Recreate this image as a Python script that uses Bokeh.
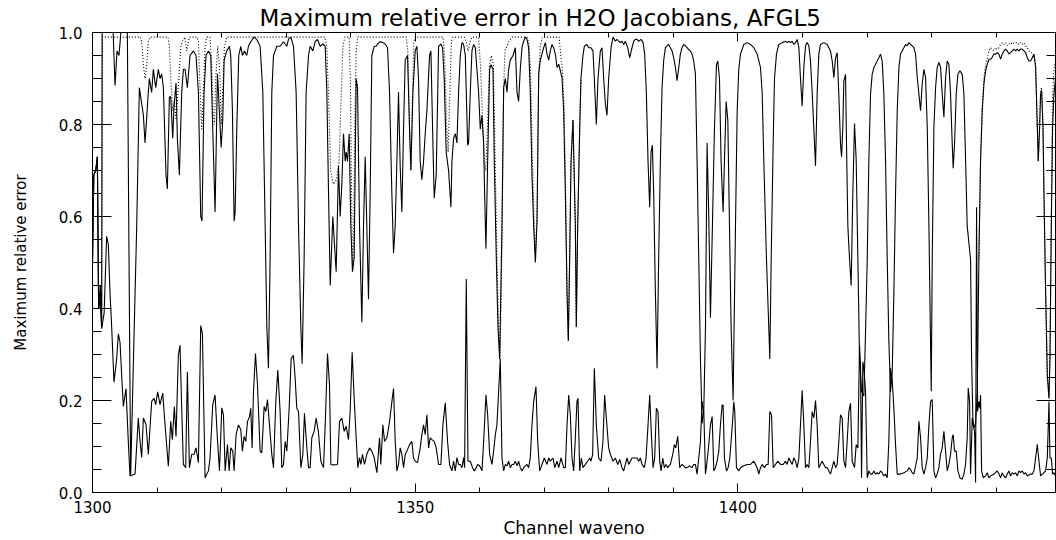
import numpy as np
from bokeh.plotting import figure
from bokeh.models import Range1d, SingleIntervalTicker, LinearAxis, PrintfTickFormatter, CustomJSTickFormatter
from bokeh.embed import file_html
from bokeh.resources import INLINE

# ---------------- data ----------------
upper_x = [1300.00, 1300.20, 1300.50, 1300.75, 1300.95, 1301.20, 1301.42, 1301.50, 1303.20, 1303.49,
           1303.80, 1304.10, 1304.40, 1305.40, 1305.91, 1306.85, 1307.26, 1307.78, 1307.88, 1308.14,
           1308.65, 1308.81, 1309.17, 1309.43, 1309.79, 1310.20, 1310.46, 1310.72, 1310.98, 1311.39,
           1311.60, 1311.91, 1312.12, 1312.43, 1312.63, 1312.94, 1313.15, 1313.46, 1313.82, 1314.08,
           1314.34, 1314.70, 1315.11, 1315.63, 1316.04, 1316.41, 1316.77, 1316.97, 1317.28, 1317.59,
           1317.96, 1318.32, 1318.63, 1318.99, 1319.36, 1319.51, 1319.93, 1320.18, 1320.39, 1320.80,
           1321.22, 1321.42, 1321.68, 1321.94, 1322.10, 1322.35, 1322.66, 1322.97, 1323.23, 1323.54,
           1323.90, 1324.16, 1324.52, 1325.04, 1325.45, 1325.97, 1326.39, 1326.75, 1327.01, 1327.26,
           1327.52, 1327.78, 1328.04, 1328.56, 1329.07, 1329.59, 1330.11, 1330.36, 1330.73, 1331.14,
           1331.55, 1331.92, 1332.28, 1332.48, 1332.79, 1333.10, 1333.47, 1333.72, 1334.14, 1334.50,
           1334.86, 1335.27, 1335.69, 1336.05, 1336.31, 1336.57, 1336.83, 1337.23, 1337.75, 1338.11,
           1338.37, 1338.63, 1338.89, 1339.15, 1339.30, 1339.51, 1339.77, 1340.02, 1340.28, 1340.54,
           1340.85, 1341.06, 1341.37, 1341.73, 1341.99, 1342.25, 1342.50, 1342.76, 1343.02, 1343.28,
           1343.64, 1343.95, 1344.16, 1344.57, 1344.99, 1345.35, 1345.71, 1346.02, 1346.38, 1346.64,
           1346.90, 1347.16, 1347.41, 1347.67, 1347.93, 1348.19, 1348.45, 1348.81, 1349.12, 1349.33,
           1349.64, 1350.00, 1350.26, 1350.51, 1350.77, 1351.03, 1351.29, 1351.55, 1351.81, 1352.22,
           1352.43, 1352.74, 1352.94, 1353.25, 1353.62, 1353.98, 1354.24, 1354.49, 1354.80, 1355.17,
           1355.53, 1355.69, 1355.95, 1356.21, 1356.46, 1356.72, 1356.98, 1357.24, 1357.50, 1357.76,
           1357.91, 1358.12, 1358.27, 1358.53, 1358.79, 1359.05, 1359.31, 1359.56, 1359.82, 1360.08,
           1360.34, 1360.60, 1360.75, 1360.96, 1361.22, 1361.53, 1361.73, 1362.05, 1362.25, 1362.56,
           1362.82, 1363.08, 1363.44, 1363.70, 1363.96, 1364.22, 1364.47, 1364.73, 1365.15, 1365.51,
           1365.77, 1366.02, 1366.28, 1366.54, 1366.80, 1367.06, 1367.32, 1367.57, 1367.83, 1368.09,
           1368.35, 1368.61, 1368.87, 1369.13, 1369.38, 1369.64, 1369.90, 1370.16, 1370.42, 1370.68,
           1370.93, 1371.19, 1371.45, 1371.71, 1371.97, 1372.23, 1372.48, 1372.74, 1373.00, 1373.26,
           1373.52, 1373.72, 1373.93, 1374.14, 1374.44, 1374.81, 1374.96, 1375.17, 1375.48, 1375.68,
           1375.99, 1376.20, 1376.61, 1376.87, 1377.23, 1377.54, 1377.75, 1378.06, 1378.32, 1378.68,
           1378.94, 1379.20, 1379.46, 1379.71, 1379.97, 1380.34, 1380.65, 1381.01, 1381.27, 1381.52,
           1381.78, 1382.04, 1382.30, 1382.56, 1382.92, 1383.23, 1383.59, 1383.85, 1384.11, 1384.37,
           1384.62, 1384.99, 1385.30, 1385.55, 1385.81, 1386.07, 1386.33, 1386.54, 1386.74, 1386.95,
           1387.21, 1387.47, 1387.72, 1387.98, 1388.24, 1388.50, 1388.76, 1389.02, 1389.28, 1389.53,
           1389.79, 1390.05, 1390.31, 1390.57, 1390.83, 1391.08, 1391.34, 1391.60, 1391.86, 1392.12,
           1392.38, 1392.63, 1392.89, 1393.15, 1393.41, 1393.67, 1393.93, 1394.19, 1394.45, 1394.71,
           1394.97, 1395.22, 1395.48, 1395.74, 1396.00, 1396.36, 1396.67, 1396.88, 1397.14, 1397.39,
           1397.70, 1397.91, 1398.17, 1398.43, 1398.69, 1398.94, 1399.25, 1399.62, 1399.88, 1400.13,
           1400.39, 1400.91, 1401.43, 1401.94, 1402.46, 1402.98, 1403.49, 1403.75, 1404.01, 1404.42,
           1404.68, 1404.94, 1405.15, 1405.46, 1405.66, 1405.97, 1406.33, 1406.85, 1407.37, 1407.63,
           1407.89, 1408.14, 1408.40, 1408.66, 1408.92, 1409.18, 1409.44, 1409.69, 1409.95, 1410.21,
           1410.47, 1410.73, 1410.99, 1411.24, 1411.50, 1411.76, 1412.02, 1412.27, 1412.53, 1412.79,
           1413.31, 1413.82, 1414.34, 1414.60, 1414.86, 1415.12, 1415.37, 1415.63, 1415.89, 1416.05,
           1416.25, 1416.41, 1416.67, 1416.82, 1417.03, 1417.29, 1417.54, 1417.80, 1418.06, 1418.32,
           1418.58, 1418.84, 1419.15, 1419.51, 1419.77, 1420.03, 1420.28, 1420.54, 1420.80, 1421.06,
           1421.32, 1421.58, 1421.83, 1422.09, 1422.35, 1422.61, 1422.87, 1423.13, 1423.38, 1423.64,
           1423.90, 1424.16, 1424.42, 1424.68, 1424.94, 1425.19, 1425.45, 1425.71, 1425.97, 1426.23,
           1426.49, 1426.74, 1427.00, 1427.26, 1427.52, 1427.78, 1428.04, 1428.29, 1428.55, 1428.81,
           1429.07, 1429.33, 1429.59, 1429.80, 1429.95, 1430.10, 1430.36, 1430.62, 1430.87, 1431.13,
           1431.39, 1431.65, 1431.91, 1432.17, 1432.42, 1432.68, 1432.94, 1433.20, 1433.35, 1433.56,
           1433.82, 1434.08, 1434.39, 1434.75, 1435.01, 1435.27, 1435.52, 1435.78, 1436.04, 1436.20,
           1436.40, 1436.56, 1436.82, 1437.08, 1437.33, 1437.59, 1437.85, 1438.11, 1438.37, 1438.63,
           1438.88, 1439.14, 1439.40, 1439.66, 1439.92, 1440.18, 1440.43, 1440.69, 1440.95, 1441.21,
           1441.47, 1441.73, 1441.98, 1442.24, 1442.50, 1442.76, 1443.02, 1443.28, 1443.54, 1443.79,
           1444.05, 1444.31, 1444.57, 1444.83, 1445.09, 1445.34, 1445.60, 1445.86, 1446.12, 1446.38,
           1446.53, 1446.74, 1446.89, 1447.05, 1447.26, 1447.41, 1447.67, 1447.93, 1448.19, 1448.34,
           1448.55, 1448.75, 1448.96, 1449.22]
upper_y = [0.50, 0.69, 0.70, 0.73, 0.40, 0.45, 0.36, 1.00, 1.00, 0.885,
           0.96, 0.95, 1.00, 1.00, 0.036, 0.58, 0.88, 0.83, 0.82, 0.76,
           0.87, 0.90, 0.87, 0.92, 0.88, 0.92, 0.90, 0.91, 0.88, 0.69,
           0.66, 0.86, 0.86, 0.77, 0.84, 0.89, 0.77, 0.69, 0.87, 0.92,
           0.92, 0.88, 0.95, 0.96, 0.95, 0.87, 0.60, 0.59, 0.87, 0.95,
           0.96, 0.95, 0.79, 0.61, 0.91, 0.87, 0.75, 0.81, 0.94, 0.96,
           0.97, 0.95, 0.83, 0.59, 0.61, 0.79, 0.95, 0.97, 0.95, 0.96,
           0.95, 0.97, 0.98, 0.99, 0.985, 0.97, 0.87, 0.58, 0.36, 0.27,
           0.51, 0.87, 0.95, 0.97, 0.97, 0.98, 0.97, 0.985, 0.99, 0.97,
           0.87, 0.58, 0.36, 0.28, 0.51, 0.87, 0.95, 0.97, 0.96, 0.98,
           0.985, 0.97, 0.975, 0.97, 0.87, 0.65, 0.45, 0.60, 0.48, 0.71,
           0.60, 0.67, 0.78, 0.72, 0.74, 0.72, 0.78, 0.58, 0.48, 0.51,
           0.90, 0.88, 0.58, 0.37, 0.58, 0.73, 0.58, 0.42, 0.65, 0.95,
           0.97, 0.97, 0.975, 0.98, 0.978, 0.975, 0.967, 0.87, 0.65, 0.52,
           0.58, 0.72, 0.87, 0.71, 0.61, 0.79, 0.94, 0.95, 0.79, 0.70,
           0.87, 0.96, 0.97, 0.90, 0.72, 0.68, 0.72, 0.78, 0.83, 0.95,
           0.96, 0.76, 0.64, 0.69, 0.97, 0.975, 0.967, 0.90, 0.74, 0.70,
           0.62, 0.72, 0.77, 0.78, 0.76, 0.87, 0.95, 0.978, 0.974, 0.95,
           0.87, 0.755, 0.76, 0.87, 0.96, 0.974, 0.967, 0.92, 0.87, 0.79,
           0.82, 0.76, 0.65, 0.53, 0.72, 0.92, 0.93, 0.92, 0.72, 0.51,
           0.36, 0.29, 0.58, 0.88, 0.90, 0.87, 0.92, 0.94, 0.95, 0.967,
           0.87, 0.85, 0.92, 0.967, 0.981, 0.99, 0.985, 0.967, 0.87, 0.69,
           0.58, 0.50, 0.59, 0.91, 0.94, 0.953, 0.967, 0.978, 0.953, 0.94,
           0.96, 0.974, 0.967, 0.953, 0.924, 0.931, 0.917, 0.902, 0.83, 0.65,
           0.435, 0.33, 0.51, 0.72, 0.81, 0.58, 0.36, 0.58, 0.79, 0.90,
           0.95, 0.97, 0.974, 0.967, 0.967, 0.96, 0.90, 0.80, 0.90, 0.96,
           0.967, 0.90, 0.845, 0.82, 0.90, 0.967, 0.99, 0.981, 0.985, 0.981,
           0.978, 0.981, 0.974, 0.981, 0.967, 0.945, 0.967, 0.981, 0.985, 0.985,
           0.981, 0.985, 0.978, 0.953, 0.87, 0.72, 0.62, 0.74, 0.755, 0.65,
           0.435, 0.27, 0.51, 0.72, 0.88, 0.94, 0.967, 0.971, 0.974, 0.967,
           0.96, 0.945, 0.924, 0.895, 0.924, 0.953, 0.967, 0.974, 0.971, 0.967,
           0.963, 0.96, 0.953, 0.938, 0.91, 0.72, 0.507, 0.29, 0.15, 0.18,
           0.36, 0.76, 0.60, 0.38, 0.55, 0.79, 0.93, 0.938, 0.90, 0.72,
           0.61, 0.72, 0.85, 0.81, 0.58, 0.36, 0.20, 0.58, 0.83, 0.92,
           0.953, 0.974, 0.978, 0.974, 0.967, 0.953, 0.924, 0.87, 0.72, 0.507,
           0.40, 0.29, 0.507, 0.76, 0.90, 0.953, 0.974, 0.978, 0.981, 0.978,
           0.981, 0.978, 0.981, 0.974, 0.978, 0.985, 0.967, 0.90, 0.84, 0.924,
           0.971, 0.978, 0.971, 0.938, 0.87, 0.79, 0.71, 0.866, 0.953, 0.974,
           0.978, 0.974, 0.96, 0.938, 0.902, 0.945, 0.956, 0.866, 0.758, 0.73,
           0.794, 0.895, 0.909, 0.758, 0.579, 0.507, 0.45, 0.65, 0.802, 0.723,
           0.507, 0.29, 0.22, 0.21, 0.35, 0.506, 0.72, 0.866, 0.909, 0.924,
           0.931, 0.938, 0.945, 0.953, 0.938, 0.866, 0.72, 0.507, 0.33, 0.219,
           0.26, 0.435, 0.65, 0.83, 0.924, 0.953, 0.96, 0.967, 0.974, 0.971,
           0.978, 0.974, 0.971, 0.967, 0.953, 0.902, 0.866, 0.83, 0.888, 0.92,
           0.902, 0.794, 0.579, 0.363, 0.22, 0.507, 0.794, 0.88, 0.924, 0.935,
           0.924, 0.866, 0.816, 0.902, 0.938, 0.931, 0.866, 0.758, 0.705, 0.758,
           0.866, 0.909, 0.917, 0.909, 0.866, 0.723, 0.579, 0.543, 0.507, 0.29,
           0.16, 0.14, 0.15, 0.22, 0.507, 0.723, 0.83, 0.888, 0.917, 0.931,
           0.942, 0.942, 0.946, 0.953, 0.953, 0.956, 0.953, 0.942, 0.953, 0.96,
           0.964, 0.96, 0.953, 0.956, 0.96, 0.964, 0.96, 0.964, 0.96, 0.964,
           0.964, 0.96, 0.956, 0.945, 0.938, 0.938, 0.945, 0.953, 0.924, 0.794,
           0.72, 0.794, 0.866, 0.873, 0.794, 0.651, 0.435, 0.255, 0.205, 0.29,
           0.579, 0.794, 0.866, 0.902]

dotted_x = [1300.00, 1300.20, 1300.50, 1300.75, 1300.95, 1301.20, 1301.42, 1301.50, 1307.45, 1307.62,
            1307.88, 1308.14, 1308.40, 1308.65, 1308.90, 1311.70, 1311.91, 1312.12, 1312.43, 1312.68,
            1312.94, 1313.20, 1313.46, 1313.70, 1313.90, 1314.30, 1314.60, 1315.00, 1316.20, 1316.41,
            1316.66, 1316.92, 1317.18, 1317.44, 1317.70, 1318.20, 1318.45, 1318.70, 1318.90, 1319.10,
            1319.40, 1319.70, 1319.95, 1320.20, 1320.45, 1320.80, 1336.00, 1336.30, 1336.60, 1336.90,
            1337.30, 1337.80, 1338.20, 1338.50, 1338.80, 1339.10, 1339.75, 1339.95, 1340.10, 1340.28,
            1340.45, 1340.65, 1340.85, 1341.10, 1348.60, 1348.85, 1349.10, 1349.33, 1349.55, 1349.80,
            1350.00, 1354.30, 1354.55, 1354.85, 1355.10, 1355.35, 1355.60, 1355.85, 1357.60, 1357.90,
            1358.20, 1358.50, 1358.80, 1359.80, 1360.10, 1360.40, 1360.70, 1360.95, 1361.20, 1361.50,
            1361.80, 1362.10, 1362.35, 1362.65, 1362.92, 1363.15, 1363.45, 1363.70, 1363.90, 1364.20,
            1364.50, 1365.00, 1367.30, 1367.60, 1367.85, 1368.10, 1368.40, 1368.65, 1368.90, 1369.15,
            1369.40, 1369.70, 1372.30, 1372.55, 1372.80, 1373.05, 1373.30, 1373.52, 1373.72, 1373.93,
            1374.14, 1374.44, 1374.81, 1374.96, 1375.17, 1375.48, 1375.68, np.nan,
            1437.33, 1437.59, 1437.85, 1438.11, 1438.37, 1438.63, 1438.88, 1439.14, 1439.40, 1439.66,
            1439.92, 1440.18, 1440.43, 1440.69, 1440.95, 1441.21, 1441.47, 1441.73, 1441.98, 1442.24,
            1442.50, 1442.76, 1443.02, 1443.28, 1443.54, 1443.79, 1444.05, 1444.31, 1444.57, 1444.83,
            1445.09, 1445.34, 1445.60, 1445.86, 1446.12, 1446.38, 1446.53, 1446.74, 1446.89, 1447.05,
            1447.26, 1447.41, 1447.67, 1447.93, 1448.19, 1448.34, 1448.55, 1448.75, 1448.96, 1449.22]
dotted_y = [0.50, 0.69, 0.70, 0.73, 0.40, 0.45, 0.36, 0.99, 0.99, 0.98,
            0.93, 0.90, 0.93, 0.98, 0.99, 0.99, 0.97, 0.90, 0.83, 0.85,
            0.81, 0.86, 0.92, 0.97, 0.98, 0.99, 0.96, 0.99, 0.99, 0.98,
            0.88, 0.79, 0.87, 0.97, 0.99, 0.99, 0.93, 0.82, 0.80, 0.90,
            0.97, 0.92, 0.80, 0.88, 0.97, 0.99, 0.99, 0.97, 0.85, 0.70,
            0.67, 0.68, 0.72, 0.85, 0.97, 0.99, 0.99, 0.90, 0.70, 0.48,
            0.55, 0.82, 0.96, 0.99, 0.99, 0.96, 0.80, 0.70, 0.85, 0.98,
            0.99, 0.99, 0.95, 0.80, 0.74, 0.86, 0.98, 0.99, 0.99, 0.98,
            0.96, 0.98, 0.99, 0.99, 0.93, 0.83, 0.72, 0.70, 0.80, 0.93,
            0.95, 0.93, 0.75, 0.52, 0.36, 0.29, 0.55, 0.88, 0.96, 0.97,
            0.98, 0.99, 0.99, 0.98, 0.92, 0.76, 0.60, 0.51, 0.62, 0.92,
            0.97, 0.99, 0.99, 0.95, 0.92, 0.84, 0.66, 0.44, 0.33, 0.51,
            0.72, 0.81, 0.58, 0.36, 0.58, 0.79, 0.90, np.nan,
            0.507, 0.723, 0.84, 0.90, 0.93, 0.945, 0.96, 0.967, 0.963, 0.96,
            0.967, 0.963, 0.967, 0.974, 0.978, 0.974, 0.978, 0.971, 0.974, 0.978,
            0.974, 0.978, 0.978, 0.978, 0.974, 0.978, 0.974, 0.978, 0.971, 0.967,
            0.96, 0.956, 0.956, 0.95, 0.931, 0.80, 0.72, 0.80, 0.873, 0.88,
            0.80, 0.651, 0.435, 0.255, 0.205, 0.29, 0.60, 0.86, 0.92, 0.938]

lower_x = [1300.00, 1300.20, 1300.50, 1300.75, 1300.95, 1301.20, 1301.42, 1301.80, 1302.19, 1302.45,
           1302.71, 1302.97, 1303.33, 1303.74, 1304.00, 1304.26, 1304.52, 1304.78, 1305.19, 1305.55,
           1305.81, 1306.59, 1307.10, 1307.36, 1307.62, 1307.88, 1308.29, 1308.65, 1309.17, 1309.53,
           1309.79, 1310.10, 1310.46, 1310.88, 1311.24, 1311.75, 1312.12, 1312.37, 1312.68, 1312.94,
           1313.30, 1313.56, 1313.82, 1314.08, 1314.44, 1314.70, 1315.01, 1315.37, 1315.73, 1316.04,
           1316.41, 1316.77, 1317.03, 1317.44, 1317.96, 1318.21, 1318.63, 1318.99, 1319.36, 1319.67,
           1320.03, 1320.29, 1320.55, 1320.91, 1321.17, 1321.42, 1321.73, 1321.94, 1322.25, 1322.61,
           1322.97, 1323.23, 1323.49, 1323.75, 1324.01, 1324.32, 1324.52, 1324.73, 1324.94, 1325.25,
           1325.56, 1325.97, 1326.23, 1326.59, 1326.85, 1327.11, 1327.42, 1327.78, 1328.04, 1328.40,
           1328.71, 1329.07, 1329.33, 1329.59, 1329.85, 1330.11, 1330.47, 1330.78, 1331.14, 1331.40,
           1331.65, 1331.92, 1332.28, 1332.59, 1332.84, 1333.21, 1333.47, 1333.72, 1333.98, 1334.34,
           1334.65, 1335.02, 1335.38, 1335.79, 1336.10, 1336.41, 1336.72, 1336.93, 1337.34, 1337.96,
           1338.27, 1338.63, 1339.00, 1339.30, 1339.66, 1339.92, 1340.23, 1340.54, 1340.85, 1341.11,
           1341.37, 1341.58, 1341.83, 1342.14, 1342.50, 1342.92, 1343.28, 1343.64, 1344.06, 1344.47,
           1344.67, 1344.99, 1345.25, 1345.61, 1346.02, 1346.38, 1346.64, 1346.90, 1347.16, 1347.41,
           1347.67, 1347.93, 1348.19, 1348.45, 1348.71, 1349.12, 1349.48, 1349.74, 1350.00, 1350.36,
           1350.77, 1351.03, 1351.29, 1351.55, 1351.81, 1352.07, 1352.32, 1352.58, 1352.94, 1353.25,
           1353.62, 1353.98, 1354.29, 1354.65, 1355.01, 1355.32, 1355.68, 1355.95, 1356.21, 1356.46,
           1356.72, 1356.98, 1357.24, 1357.50, 1357.65, 1357.91, 1358.17, 1358.53, 1358.89, 1359.15,
           1359.46, 1359.67, 1359.98, 1360.34, 1360.60, 1360.96, 1361.22, 1361.53, 1361.89, 1362.15,
           1362.41, 1362.66, 1362.92, 1363.18, 1363.44, 1363.70, 1363.96, 1364.22, 1364.47, 1364.73,
           1364.99, 1365.25, 1365.51, 1365.77, 1366.02, 1366.28, 1366.54, 1366.80, 1367.06, 1367.32,
           1367.57, 1367.83, 1368.09, 1368.35, 1368.71, 1368.97, 1369.28, 1369.64, 1370.00, 1370.42,
           1370.68, 1370.93, 1371.35, 1371.61, 1371.97, 1372.23, 1372.59, 1373.00, 1373.26, 1373.52,
           1373.78, 1374.03, 1374.29, 1374.55, 1374.81, 1375.06, 1375.22, 1375.48, 1375.74, 1375.99,
           1376.36, 1376.72, 1377.03, 1377.23, 1377.49, 1377.75, 1378.06, 1378.42, 1378.78, 1379.09,
           1379.35, 1379.61, 1379.97, 1380.23, 1380.65, 1381.01, 1381.37, 1381.68, 1382.04, 1382.30,
           1382.56, 1382.82, 1383.07, 1383.33, 1383.59, 1383.95, 1384.37, 1384.62, 1384.88, 1385.14,
           1385.50, 1385.76, 1386.07, 1386.33, 1386.59, 1386.85, 1387.10, 1387.36, 1387.62, 1387.88,
           1388.09, 1388.35, 1388.60, 1388.86, 1389.12, 1389.53, 1389.90, 1390.15, 1390.36, 1390.67,
           1390.98, 1391.34, 1391.60, 1391.86, 1392.12, 1392.53, 1392.89, 1393.15, 1393.41, 1393.67,
           1393.93, 1394.19, 1394.45, 1394.71, 1394.97, 1395.22, 1395.48, 1395.74, 1396.00, 1396.26,
           1396.52, 1396.77, 1397.03, 1397.29, 1397.55, 1397.70, 1397.91, 1398.22, 1398.48, 1398.74,
           1398.94, 1399.20, 1399.36, 1399.51, 1399.77, 1400.13, 1400.39, 1400.91, 1401.43, 1401.94,
           1402.46, 1402.98, 1403.23, 1403.49, 1403.75, 1404.11, 1404.42, 1404.68, 1404.94, 1405.20,
           1405.46, 1405.82, 1406.18, 1406.59, 1407.01, 1407.37, 1407.63, 1407.89, 1408.14, 1408.40,
           1408.66, 1408.92, 1409.18, 1409.44, 1409.69, 1409.95, 1410.21, 1410.47, 1410.73, 1410.99,
           1411.24, 1411.50, 1411.76, 1412.02, 1412.27, 1412.53, 1412.79, 1413.05, 1413.31, 1413.57,
           1413.82, 1414.34, 1414.60, 1414.86, 1415.12, 1415.37, 1415.63, 1415.89, 1416.15, 1416.41,
           1416.67, 1416.92, 1417.18, 1417.44, 1417.70, 1418.06, 1418.32, 1418.58, 1418.84, 1418.99,
           1419.15, 1419.35, 1419.51, 1419.77, 1420.03, 1420.28, 1420.54, 1420.80, 1421.06, 1421.32,
           1421.58, 1421.83, 1422.09, 1422.35, 1422.61, 1422.87, 1423.13, 1423.38, 1423.64, 1423.90,
           1424.16, 1424.42, 1424.68, 1425.19, 1425.71, 1426.23, 1426.49, 1426.74, 1427.00, 1427.26,
           1427.78, 1428.04, 1428.29, 1428.55, 1428.81, 1429.07, 1429.33, 1429.59, 1429.84, 1430.10,
           1430.36, 1430.62, 1430.87, 1431.13, 1431.39, 1431.65, 1431.91, 1432.17, 1432.42, 1432.68,
           1432.94, 1433.20, 1433.35, 1433.56, 1433.82, 1434.08, 1434.39, 1434.75, 1435.01, 1435.27,
           1435.52, 1435.68, 1435.89, 1436.04, 1436.30, 1436.45, 1436.66, 1436.82, 1436.97, 1437.13,
           1437.33, 1437.49, 1437.59, 1437.75, 1438.01, 1438.37, 1438.63, 1438.88, 1439.14, 1439.66,
           1440.18, 1440.43, 1440.69, 1440.95, 1441.21, 1441.47, 1441.73, 1441.98, 1442.24, 1442.50,
           1442.76, 1443.02, 1443.28, 1443.54, 1443.79, 1444.05, 1444.31, 1444.57, 1444.83, 1445.34,
           1445.60, 1445.86, 1446.12, 1446.38, 1446.64, 1446.89, 1447.15, 1447.41, 1447.67, 1447.93,
           1448.19, 1448.34, 1448.55, 1448.75, 1448.96, 1449.22]
lower_y = [0.50, 0.69, 0.70, 0.73, 0.40, 0.42, 0.356, 0.39, 0.557, 0.54,
           0.435, 0.36, 0.24, 0.29, 0.345, 0.327, 0.255, 0.187, 0.226, 0.11,
           0.036, 0.04, 0.162, 0.112, 0.076, 0.162, 0.148, 0.083, 0.198, 0.205,
           0.191, 0.219, 0.191, 0.216, 0.147, 0.057, 0.155, 0.115, 0.187, 0.122,
           0.298, 0.32, 0.183, 0.061, 0.054, 0.262, 0.054, 0.083, 0.083, 0.097,
           0.065, 0.363, 0.345, 0.032, 0.047, 0.075, 0.191, 0.212, 0.115, 0.047,
           0.184, 0.169, 0.047, 0.104, 0.047, 0.097, 0.09, 0.047, 0.126, 0.147,
           0.137, 0.09, 0.122, 0.111, 0.154, 0.165, 0.183, 0.097, 0.219, 0.302,
           0.234, 0.09, 0.086, 0.187, 0.176, 0.202, 0.147, 0.083, 0.054, 0.198,
           0.266, 0.176, 0.054, 0.061, 0.111, 0.09, 0.183, 0.291, 0.298, 0.248,
           0.183, 0.176, 0.054, 0.083, 0.172, 0.097, 0.054, 0.054, 0.119, 0.133,
           0.162, 0.13, 0.068, 0.054, 0.165, 0.302, 0.234, 0.061, 0.06, 0.061,
           0.154, 0.162, 0.133, 0.144, 0.115, 0.176, 0.305, 0.205, 0.119, 0.054,
           0.076, 0.061, 0.083, 0.061, 0.083, 0.097, 0.09, 0.076, 0.043, 0.119,
           0.061, 0.147, 0.111, 0.119, 0.154, 0.197, 0.226, 0.111, 0.047, 0.061,
           0.097, 0.083, 0.054, 0.083, 0.09, 0.104, 0.111, 0.075, 0.068, 0.065,
           0.097, 0.126, 0.147, 0.126, 0.169, 0.097, 0.119, 0.115, 0.111, 0.097,
           0.061, 0.061, 0.147, 0.195, 0.111, 0.061, 0.047, 0.068, 0.047, 0.076,
           0.061, 0.061, 0.054, 0.076, 0.054, 0.464, 0.068, 0.068, 0.054, 0.047,
           0.054, 0.061, 0.058, 0.047, 0.11, 0.212, 0.169, 0.083, 0.061, 0.09,
           0.126, 0.147, 0.219, 0.29, 0.075, 0.047, 0.061, 0.058, 0.068, 0.054,
           0.061, 0.061, 0.068, 0.058, 0.068, 0.054, 0.047, 0.054, 0.058, 0.061,
           0.054, 0.076, 0.147, 0.198, 0.23, 0.112, 0.047, 0.061, 0.075, 0.061,
           0.075, 0.068, 0.075, 0.054, 0.068, 0.054, 0.075, 0.054, 0.054, 0.147,
           0.212, 0.169, 0.075, 0.047, 0.12, 0.198, 0.205, 0.047, 0.075, 0.054,
           0.061, 0.068, 0.075, 0.068, 0.083, 0.27, 0.147, 0.075, 0.068, 0.112,
           0.212, 0.162, 0.097, 0.083, 0.068, 0.075, 0.061, 0.072, 0.054, 0.047,
           0.061, 0.075, 0.061, 0.068, 0.075, 0.075, 0.075, 0.068, 0.075, 0.061,
           0.054, 0.075, 0.147, 0.212, 0.126, 0.054, 0.075, 0.183, 0.176, 0.068,
           0.047, 0.075, 0.054, 0.061, 0.054, 0.061, 0.083, 0.104, 0.097, 0.122,
           0.054, 0.061, 0.058, 0.054, 0.054, 0.058, 0.054, 0.061, 0.061, 0.04,
           0.075, 0.111, 0.198, 0.176, 0.04, 0.068, 0.104, 0.147, 0.165, 0.047,
           0.054, 0.068, 0.09, 0.147, 0.19, 0.19, 0.075, 0.047, 0.054, 0.075,
           0.111, 0.162, 0.197, 0.176, 0.054, 0.047, 0.054, 0.058, 0.061, 0.061,
           0.068, 0.054, 0.04, 0.054, 0.061, 0.054, 0.061, 0.061, 0.176, 0.169,
           0.054, 0.061, 0.068, 0.061, 0.061, 0.068, 0.061, 0.075, 0.068, 0.061,
           0.075, 0.068, 0.054, 0.075, 0.147, 0.222, 0.147, 0.054, 0.061, 0.054,
           0.111, 0.176, 0.162, 0.20, 0.147, 0.054, 0.061, 0.068, 0.061, 0.054,
           0.054, 0.04, 0.054, 0.068, 0.054, 0.061, 0.111, 0.169, 0.162, 0.068,
           0.054, 0.111, 0.176, 0.194, 0.068, 0.054, 0.104, 0.097, 0.32, 0.277,
           0.032, 0.284, 0.27, 0.219, 0.032, 0.047, 0.04, 0.04, 0.047, 0.04,
           0.043, 0.04, 0.047, 0.043, 0.036, 0.04, 0.032, 0.111, 0.27, 0.245,
           0.183, 0.104, 0.04, 0.04, 0.043, 0.047, 0.054, 0.05, 0.043, 0.04,
           0.075, 0.155, 0.119, 0.054, 0.04, 0.054, 0.075, 0.147, 0.198, 0.202,
           0.047, 0.032, 0.04, 0.054, 0.083, 0.097, 0.133, 0.09, 0.047, 0.061,
           0.083, 0.119, 0.126, 0.09, 0.09, 0.047, 0.032, 0.029, 0.04, 0.061,
           0.119, 0.227, 0.198, 0.04, 0.162, 0.147, 0.133, 0.022, 0.62, 0.176,
           0.198, 0.183, 0.212, 0.047, 0.032, 0.036, 0.043, 0.032, 0.036, 0.04,
           0.047, 0.04, 0.032, 0.043, 0.036, 0.032, 0.04, 0.047, 0.036, 0.043,
           0.04, 0.043, 0.036, 0.047, 0.043, 0.047, 0.04, 0.043, 0.036, 0.04,
           0.04, 0.047, 0.075, 0.105, 0.068, 0.036, 0.04, 0.043, 0.047, 0.075,
           0.198, 0.075, 0.075, 0.04, 0.043, 0.036]

x_major = 50
y_major = 0.2
title_text = "Maximum relative error in H2O Jacobians, AFGL5"
xlabel_text = "Channel waveno"
ylabel_text = "Maximum relative error"

# ---------------- figure ----------------
FONT = "DejaVu Sans"
p = figure(width=1056, height=540, x_range=Range1d(1300, 1449.2), y_range=Range1d(0, 1),
           output_backend="svg", toolbar_location=None,
           min_border_left=92, min_border_right=1, min_border_top=31, min_border_bottom=48)
p.grid.visible = False
p.outline_line_color = "black"
p.outline_line_width = 1
p.background_fill_color = "white"
p.border_fill_color = "white"

p.title.text = title_text
p.title.text_font = FONT
p.title.text_font_size = "23px"
p.title.text_font_style = "normal"
p.title.text_color = "black"
p.title.align = "left"
p.title.offset = 167
p.title.standoff = 4


def style_axis(ax, tick_in, minor_in, show_labels):
    ax.axis_line_color = "black"
    ax.axis_line_width = 1
    ax.major_tick_line_color = "black"
    ax.minor_tick_line_color = "black"
    ax.major_tick_in = tick_in
    ax.major_tick_out = 0
    ax.minor_tick_in = minor_in
    ax.minor_tick_out = 0
    if show_labels:
        ax.major_label_text_font = FONT
        ax.major_label_text_font_size = "15px"
        ax.major_label_text_color = "black"
    else:
        ax.formatter = CustomJSTickFormatter(code="return ''")
        ax.major_label_standoff = 0


xb = p.xaxis[0]
xb.ticker = SingleIntervalTicker(interval=x_major, num_minor_ticks=5)
xb.formatter = PrintfTickFormatter(format="%d")
style_axis(xb, 9, 5, True)
xb.major_label_standoff = 8
xb.axis_label = xlabel_text
xb.axis_label_text_font = FONT
xb.axis_label_text_font_size = "17px"
xb.axis_label_text_font_style = "normal"
xb.axis_label_text_color = "black"
xb.axis_label_standoff = 2

yl = p.yaxis[0]
yl.ticker = SingleIntervalTicker(interval=y_major, num_minor_ticks=4)
yl.formatter = PrintfTickFormatter(format="%.1f")
style_axis(yl, 19, 9, True)
yl.major_label_standoff = 10
yl.axis_label = ylabel_text
yl.axis_label_text_font = FONT
yl.axis_label_text_font_size = "15px"
yl.axis_label_text_font_style = "normal"
yl.axis_label_text_color = "black"
yl.axis_label_standoff = 26

xt = LinearAxis(ticker=SingleIntervalTicker(interval=x_major, num_minor_ticks=5))
style_axis(xt, 9, 5, False)
p.add_layout(xt, "above")
yr = LinearAxis(ticker=SingleIntervalTicker(interval=y_major, num_minor_ticks=4))
style_axis(yr, 19, 9, False)
p.add_layout(yr, "right")

# ---------------- data lines ----------------
p.line(np.array(dotted_x, dtype=float), np.array(dotted_y, dtype=float),
       line_color="black", line_width=1.1, line_dash="1 2")
p.line(upper_x, upper_y, line_color="black", line_width=1.1)
p.line(lower_x, lower_y, line_color="black", line_width=1.1)

open("out.html", "w").write(file_html(p, INLINE))
